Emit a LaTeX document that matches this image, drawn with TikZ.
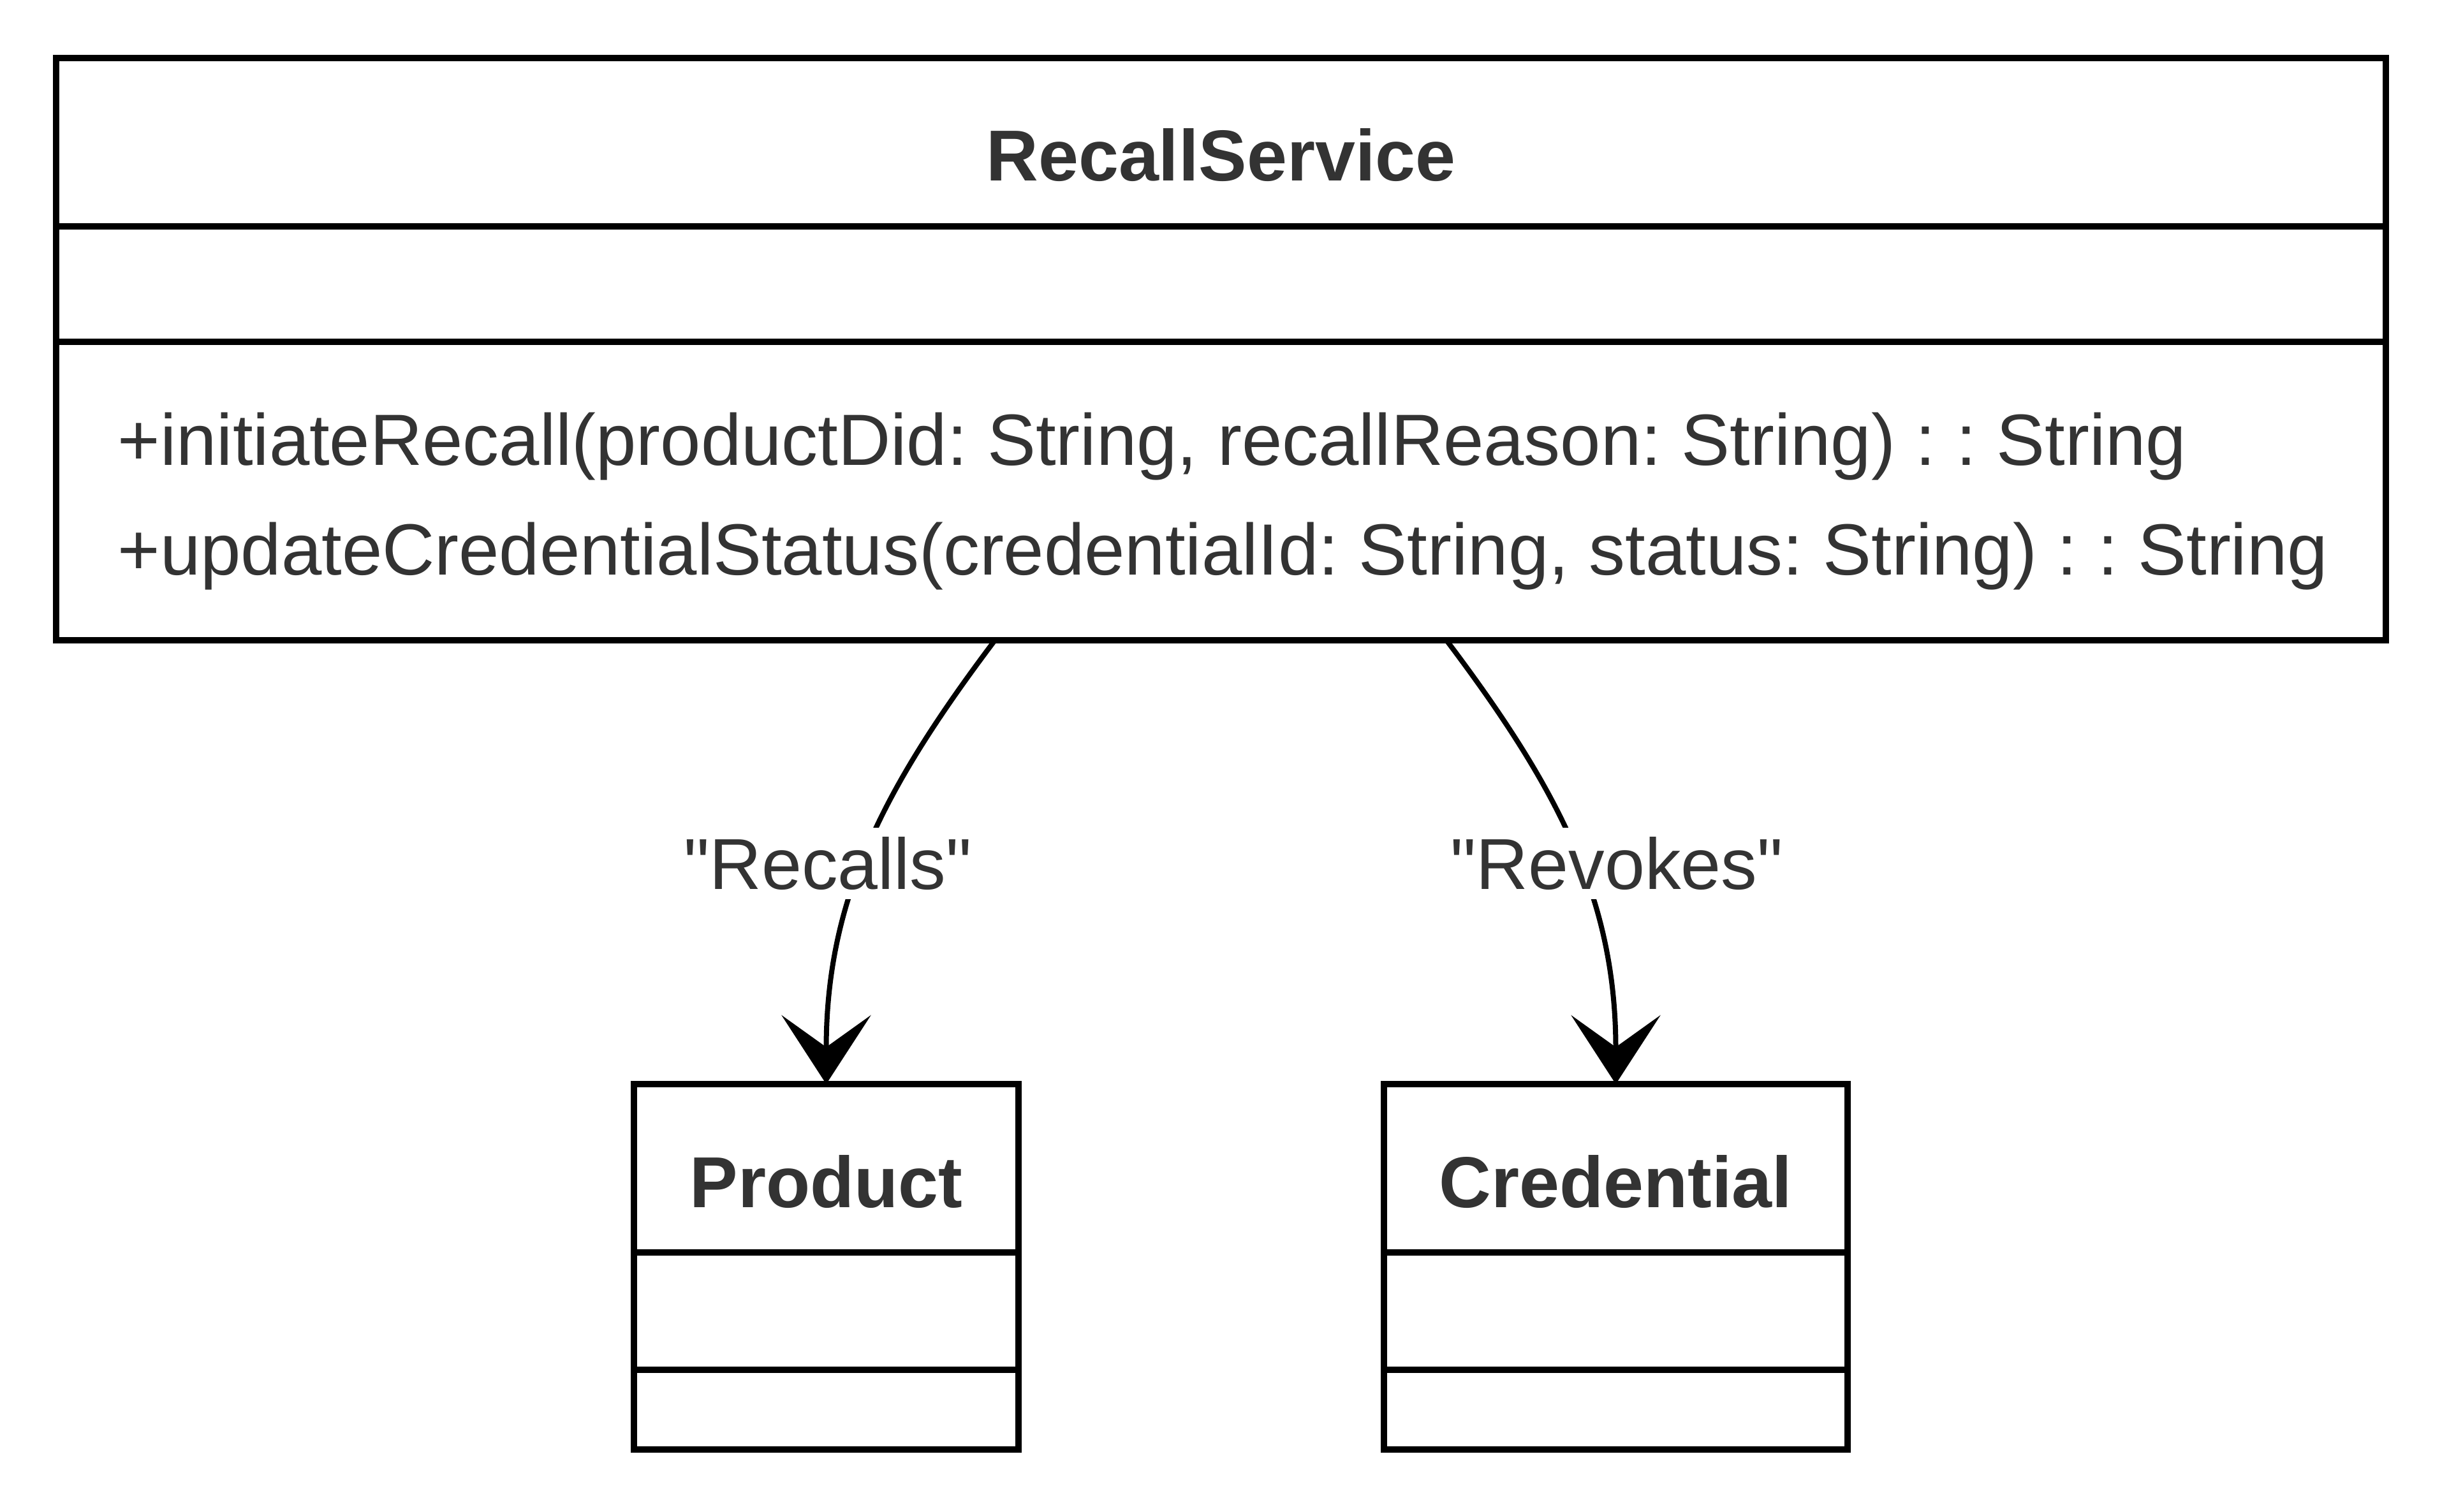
\documentclass[tikz,border=0pt]{standalone}
\usepackage{fontspec}
\setmainfont{Liberation Sans}[Ligatures=TeXOff]
\usetikzlibrary{arrows.meta,calc}
\definecolor{txt}{HTML}{333333}
\frenchspacing
\begin{document}
\begin{tikzpicture}[x=1cm,y=1cm]
\useasboundingbox (0,0) rectangle (38.4,-23.71);
\tikzset{
  cls/.style={draw=black, line width=0.1cm, fill=white, inner sep=0pt, outer sep=0pt, rectangle},
  sepline/.style={draw=black, line width=0.1cm},
  ttl/.style={font=\fontsize{32.2}{38}\selectfont\bfseries, text=txt, anchor=base, inner sep=0pt},
  mth/.style={font=\fontsize{32.4}{38}\selectfont, text=txt, anchor=base west, inner sep=0pt},
  lbl/.style={font=\fontsize{32.2}{38}\selectfont, text=txt, fill=white, inner sep=0.14cm},
  dep/.style={draw=black, line width=0.08cm, -{Stealth[length=1.08cm, width=1.4cm, inset=0.5cm]}}
}
% classes
\node[cls, minimum width=36.53cm, minimum height=9.13cm] (rs) at (19.145,-5.475) {};
\draw[sepline] ([yshift=-2.64cm]rs.north west) -- ([yshift=-2.64cm]rs.north east);
\draw[sepline] ([yshift=-4.45cm]rs.north west) -- ([yshift=-4.45cm]rs.north east);
\node[ttl] (rst) at (19.145,-2.84) {RecallService};
\node[mth] (m1) at (1.84,-7.30) {+initiateRecall(productDid: String, recallReason: String) : : String};
\node[mth] (m2) at (1.84,-9.01) {+updateCredentialStatus(credentialId: String, status: String) : : String};

\node[cls, minimum width=6.03cm, minimum height=5.73cm] (prod) at (12.955,-19.865) {};
\draw[sepline] ([yshift=-2.64cm]prod.north west) -- ([yshift=-2.64cm]prod.north east);
\draw[sepline] ([yshift=-4.48cm]prod.north west) -- ([yshift=-4.48cm]prod.north east);
\node[ttl] (prodt) at (12.955,-18.93) {Product};

\node[cls, minimum width=7.27cm, minimum height=5.73cm] (cred) at (25.335,-19.865) {};
\draw[sepline] ([yshift=-2.64cm]cred.north west) -- ([yshift=-2.64cm]cred.north east);
\draw[sepline] ([yshift=-4.48cm]cred.north west) -- ([yshift=-4.48cm]cred.north east);
\node[ttl] (credt) at (25.335,-18.93) {Credential};

% connectors
\coordinate (s1) at ([xshift=-3.545cm]rs.south);
\coordinate (s2) at ([xshift=3.535cm]rs.south);
\draw[dep] (s1) to[out=-127, in=90] (prod.north);
\draw[dep] (s2) to[out=-53, in=90] (cred.north);
\node[lbl] (l1) at (12.98,-13.54) {"Recalls"};
\node[lbl] (l2) at (25.35,-13.54) {"Revokes"};
\end{tikzpicture}
\end{document}
